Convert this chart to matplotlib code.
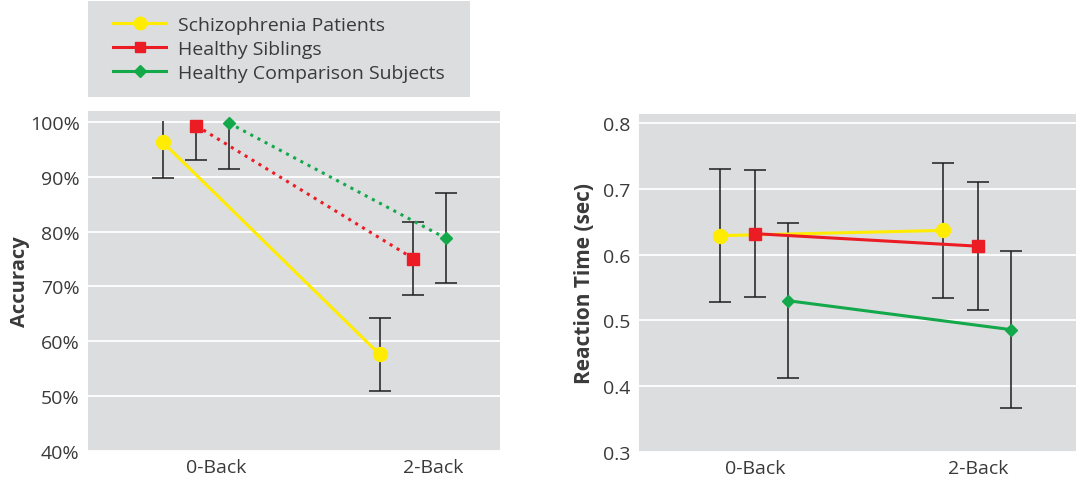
import numpy as np
import matplotlib.pyplot as plt
from matplotlib.lines import Line2D

plt.rcParams["font.family"] = ["Open Sans", "DejaVu Sans"]

# Dados
conditions = ["0-Back", "2-Back"]
groups = ["Schizophrenia Patients", "Healthy Siblings", "Healthy Comparison Subjects"]

acc_patients = [96.3, 57.6]
acc_siblings = [99.3, 75.1]
acc_controls = [99.8, 78.8]
acc_sd_patients = [6.5, 6.6]
acc_sd_siblings = [6.3, 6.6]
acc_sd_controls = [8.4, 8.2]

rt_patients = [0.629, 0.637]
rt_siblings = [0.632, 0.613]
rt_controls = [0.530, 0.486]
rt_sd_patients = [0.101, 0.103]
rt_sd_siblings = [0.097, 0.097]
rt_sd_controls = [0.118, 0.119]

colors = ["#ffec00", "#ec1c24", "#13a84a"]
markers = ["o", "s", "D"]
msizes = [10, 8.5, 6.5]
text_color = "#3a3a3a"
bg = "#dcdddf"

fig = plt.figure(figsize=(10.76, 4.85), dpi=100)
ax1 = fig.add_axes([88 / 1076, 1 - 452 / 485, 412 / 1076, 340 / 485])
ax2 = fig.add_axes([639 / 1076, 1 - 453 / 485, 437 / 1076, 338 / 485])


def style_axes(ax):
    ax.set_facecolor(bg)
    for s in ax.spines.values():
        s.set_visible(False)
    ax.yaxis.grid(True, color="white", linewidth=1.3)
    ax.set_axisbelow(True)
    ax.tick_params(length=0, labelsize=14, labelcolor=text_color)
    ax.tick_params(axis="y", pad=6)
    ax.tick_params(axis="x", pad=5)


def draw_errors(ax, x, means, sds, top=None):
    for xi, m, sd in zip(x, means, sds):
        lo, hi = m - sd, m + sd
        clipped = top is not None and hi > top
        if clipped:
            hi = top
        ax.vlines(xi, lo, hi, color="#1e1e1e", linewidth=1.1, zorder=2)
        ax.plot([xi], [lo], marker="_", ms=16, mew=1.1, color="#1e1e1e", zorder=2)
        if not clipped:
            ax.plot([xi], [hi], marker="_", ms=16, mew=1.1, color="#1e1e1e", zorder=2)


# Painel esquerdo - Accuracy
x = np.arange(len(conditions))
acc_means = [acc_patients, acc_siblings, acc_controls]
acc_sds = [acc_sd_patients, acc_sd_siblings, acc_sd_controls]
offsets_left = [-0.245, -0.09, 0.06]
styles_left = ["-", ":", ":"]
for i in range(3):
    xs = x + offsets_left[i]
    draw_errors(ax1, xs, acc_means[i], acc_sds[i], top=100.2)
    ax1.plot(xs, acc_means[i], color=colors[i], linestyle=styles_left[i],
             linewidth=2.2, zorder=3)
    ax1.plot(xs, acc_means[i], color=colors[i], linestyle="none",
             marker=markers[i], ms=msizes[i], zorder=4)

style_axes(ax1)
ax1.set_xlim(-0.59, 1.31)
ax1.set_ylim(40, 102)
ax1.set_yticks([40, 50, 60, 70, 80, 90, 100])
ax1.set_yticklabels([f"{v}%" for v in [40, 50, 60, 70, 80, 90, 100]])
ax1.set_xticks(x)
ax1.set_xticklabels(conditions)
ax1.set_ylabel("Accuracy", fontsize=14.5, fontweight="bold", color=text_color,
               labelpad=0)

# Painel direito - Reaction time
rt_means = [rt_patients, rt_siblings, rt_controls]
rt_sds = [rt_sd_patients, rt_sd_siblings, rt_sd_controls]
offsets_right = [-0.155, 0.0, 0.15]
for i in range(3):
    xs = x + offsets_right[i]
    draw_errors(ax2, xs, rt_means[i], rt_sds[i])
    ax2.plot(xs, rt_means[i], color=colors[i], linestyle="-",
             linewidth=2.2, zorder=3)
    ax2.plot(xs, rt_means[i], color=colors[i], linestyle="none",
             marker=markers[i], ms=msizes[i], zorder=4)

style_axes(ax2)
ax2.set_xlim(-0.52, 1.44)
ax2.set_ylim(0.3, 0.814)
ax2.set_yticks([0.3, 0.4, 0.5, 0.6, 0.7, 0.8])
ax2.set_yticklabels(["0.3", "0.4", "0.5", "0.6", "0.7", "0.8"])
ax2.set_xticks(x)
ax2.set_xticklabels(conditions)
ax2.set_ylabel("Reaction Time (sec)", fontsize=15, fontweight="bold",
               color=text_color, labelpad=6)

# Legenda em caixa cinza
lax = fig.add_axes([88 / 1076, 1 - 98 / 485, 382 / 1076, 96 / 485])
lax.set_facecolor(bg)
lax.set_xticks([])
lax.set_yticks([])
for s in lax.spines.values():
    s.set_visible(False)
handles = [Line2D([], [], color=colors[i], marker=markers[i], ms=msizes[i] * 0.9,
                  linewidth=2.2) for i in range(3)]
leg = lax.legend(handles, groups, loc="center left", frameon=False, fontsize=14,
                 handlelength=2.7, handletextpad=0.65, labelspacing=0.3,
                 borderaxespad=0.9)
for t in leg.get_texts():
    t.set_color(text_color)

plt.savefig("out.png", dpi=100)
